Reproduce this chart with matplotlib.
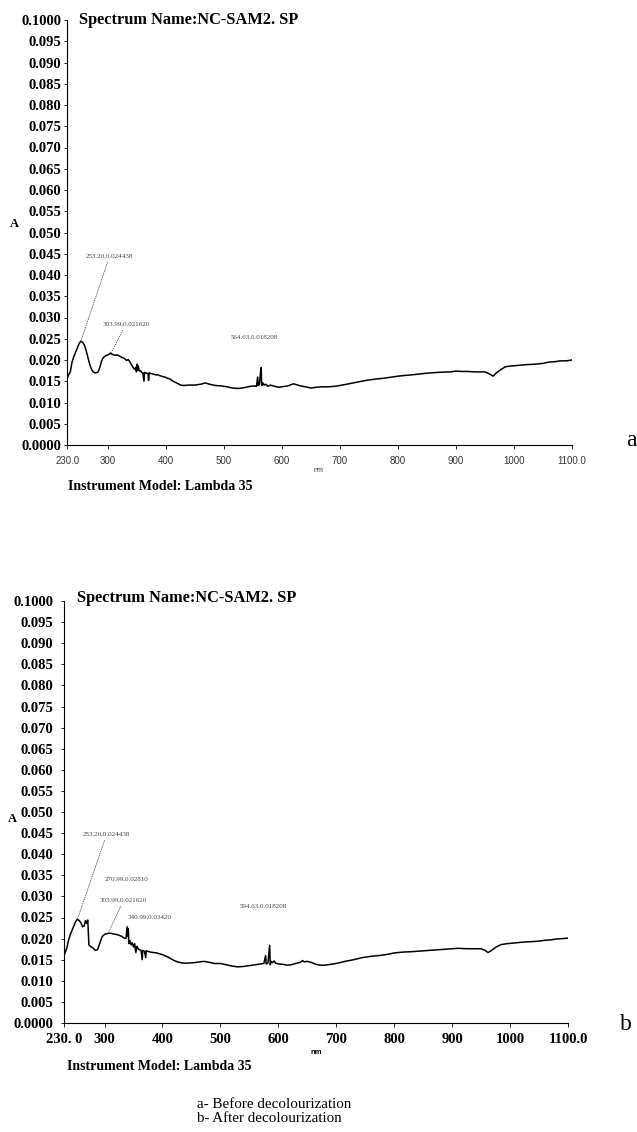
import matplotlib
matplotlib.use('Agg')
import matplotlib.pyplot as plt
import numpy as np

# UV-Vis absorbance spectra (wavelength in nm, absorbance A)
wl_before = [230, 232, 235, 238, 241, 244, 247, 250, 253, 256, 259, 262, 265, 268, 271, 274, 277, 280,
             283, 286, 289, 292, 296, 300, 304, 308, 312, 316, 320, 324, 328, 332, 335, 338, 340, 342,
             344, 346, 348, 349, 350, 351, 352, 354, 356, 358, 360, 362, 363, 366, 369, 370, 371, 374,
             378, 382, 386, 390, 394, 398, 402, 406, 410, 415, 420, 425, 430, 440, 450, 460, 468, 475,
             485, 495, 505, 515, 525, 535, 545, 552, 556, 558, 559, 561, 563, 564, 565, 567, 569, 572,
             576, 580, 585, 590, 595, 600, 610, 620, 625, 632, 640, 650, 660, 670, 680, 690, 700, 715,
             730, 745, 760, 775, 790, 800, 815, 830, 850, 870, 890, 900, 910, 920, 935, 950, 958, 964,
             970, 978, 985, 995, 1005, 1020, 1035, 1050, 1060, 1070, 1080, 1090, 1100]
abs_before = [0.0158, 0.0165, 0.0172, 0.0195, 0.0208, 0.0218, 0.0228, 0.0238, 0.0244, 0.0242, 0.0236,
              0.0224, 0.0208, 0.0192, 0.0180, 0.0173, 0.0170, 0.0170, 0.0172, 0.0183, 0.0198, 0.0206,
              0.0210, 0.0212, 0.0216, 0.0213, 0.0211, 0.0212, 0.0209, 0.0206, 0.0204, 0.0199, 0.0201,
              0.0195, 0.0190, 0.0186, 0.0181, 0.0178, 0.0183, 0.0172, 0.0190, 0.0176, 0.0186, 0.0174,
              0.0175, 0.0171, 0.0170, 0.0150, 0.0171, 0.0169, 0.0168, 0.0152, 0.0170, 0.0168, 0.0167,
              0.0165, 0.0165, 0.0163, 0.0161, 0.0160, 0.0157, 0.0156, 0.0152, 0.0148, 0.0145, 0.0141,
              0.0140, 0.0141, 0.0141, 0.0143, 0.0146, 0.0143, 0.0140, 0.0139, 0.0137, 0.0134, 0.0133,
              0.0135, 0.0138, 0.0139, 0.0138, 0.0160, 0.0140, 0.0142, 0.0172, 0.0182, 0.0140, 0.0146,
              0.0141, 0.0143, 0.0138, 0.0141, 0.0139, 0.0137, 0.0136, 0.0137, 0.0139, 0.0144, 0.0142,
              0.0139, 0.0137, 0.0134, 0.0136, 0.0137, 0.0137, 0.0138, 0.0140, 0.0144, 0.0148, 0.0152,
              0.0155, 0.0157, 0.0160, 0.0162, 0.0164, 0.0166, 0.0169, 0.0171, 0.0172, 0.0174, 0.0173,
              0.0173, 0.0172, 0.0172, 0.0167, 0.0162, 0.0170, 0.0178, 0.0184, 0.0186, 0.0187, 0.0189,
              0.0190, 0.0192, 0.0195, 0.0196, 0.0198, 0.0198, 0.0200]

wl_after = [230, 232, 235, 238, 241, 244, 247, 250, 253, 256, 259, 262, 265, 267, 269, 271, 273, 276,
            280, 284, 288, 292, 296, 300, 305, 310, 315, 320, 325, 330, 334, 337, 339, 340, 341, 342,
            344, 346, 348, 350, 352, 354, 356, 358, 360, 363, 365, 366, 369, 371, 372, 375, 379, 384,
            390, 395, 400, 405, 410, 416, 422, 428, 435, 445, 455, 465, 472, 480, 490, 500, 510, 520,
            530, 540, 550, 560, 570, 575, 578, 579, 582, 584, 585, 586, 588, 590, 593, 595, 600, 608,
            615, 622, 630, 638, 642, 644, 650, 658, 665, 672, 680, 690, 700, 715, 730, 745, 760, 775,
            790, 800, 815, 830, 850, 870, 890, 900, 910, 925, 940, 950, 957, 962, 968, 976, 985, 995,
            1010, 1025, 1040, 1050, 1060, 1070, 1080, 1090, 1100]
abs_after = [0.0160, 0.0167, 0.0178, 0.0197, 0.0210, 0.0220, 0.0230, 0.0240, 0.0246, 0.0243, 0.0238,
             0.0228, 0.0230, 0.0243, 0.0236, 0.0244, 0.0185, 0.0181, 0.0178, 0.0172, 0.0174, 0.0190,
             0.0205, 0.0210, 0.0212, 0.0213, 0.0211, 0.0210, 0.0208, 0.0205, 0.0201, 0.0200, 0.0228,
             0.0205, 0.0224, 0.0188, 0.0195, 0.0185, 0.0190, 0.0180, 0.0188, 0.0167, 0.0182, 0.0176,
             0.0174, 0.0172, 0.0150, 0.0172, 0.0170, 0.0155, 0.0171, 0.0170, 0.0168, 0.0167, 0.0166,
             0.0164, 0.0162, 0.0159, 0.0156, 0.0151, 0.0147, 0.0144, 0.0142, 0.0142, 0.0143, 0.0145,
             0.0146, 0.0144, 0.0141, 0.0141, 0.0138, 0.0135, 0.0133, 0.0134, 0.0136, 0.0138, 0.0140,
             0.0141, 0.0160, 0.0140, 0.0142, 0.0170, 0.0184, 0.0138, 0.0146, 0.0143, 0.0147, 0.0142,
             0.0140, 0.0139, 0.0137, 0.0138, 0.0141, 0.0144, 0.0148, 0.0145, 0.0146, 0.0143, 0.0139,
             0.0137, 0.0137, 0.0139, 0.0141, 0.0146, 0.0150, 0.0155, 0.0158, 0.0160, 0.0163, 0.0166,
             0.0168, 0.0169, 0.0171, 0.0173, 0.0175, 0.0176, 0.0177, 0.0176, 0.0176, 0.0176, 0.0172,
             0.0167, 0.0172, 0.0180, 0.0186, 0.0188, 0.0190, 0.0192, 0.0193, 0.0194, 0.0196, 0.0197,
             0.0199, 0.0200, 0.0201]

# peak labels: (label text, label x, label y, peak x, peak y or None for no leader)
peaks_before = [("253.20,0.024438", 262, 0.0445, 253.2, 0.0244),
                ("303.99,0.021620", 290, 0.0285, 304.0, 0.0213),
                ("564.63,0.018208", 512, 0.0254, None, None)]
peaks_after = [("253.20,0.024438", 263, 0.0448, 253.2, 0.0246),
               ("270.99,0.02810", 301, 0.0341, None, None),
               ("303.99,0.021620", 292, 0.0291, 306.0, 0.0212),
               ("340.99,0.03420", 340, 0.0251, None, None),
               ("594.63,0.018208", 533, 0.0277, None, None)]

y_ticks = np.arange(0, 0.1001, 0.005)
y_labels = ["0.0000"] + ["%.3f" % v for v in y_ticks[1:-1]] + ["0.1000"]
x_ticks = [230, 300, 400, 500, 600, 700, 800, 900, 1000, 1100]
x_labels_a = ["230.0", "300", "400", "500", "600", "700", "800", "900", "1000", "1100.0"]
x_labels_b = ["230. 0", "300", "400", "500", "600", "700", "800", "900", "1000", "1100.0"]

W, H = 637, 1132
SERIF = 'Liberation Serif'
SANS = 'Liberation Sans'


def fx(px):
    return px / W


def fy(py):
    return 1 - py / H


def draw_panel(ax, wl, ab, peaks, xlabels, bottom_style, ypad):
    ax.plot(wl, ab, color='black', lw=1.1)
    ax.set_xlim(230, 1100)
    ax.set_ylim(0, 0.1)
    for s in ['top', 'right']:
        ax.spines[s].set_visible(False)
    for s in ['left', 'bottom']:
        ax.spines[s].set_linewidth(0.8)
    ax.set_yticks(y_ticks)
    ax.set_yticklabels(y_labels, fontfamily=SERIF, fontweight='bold', fontsize=10.5)
    ax.tick_params(axis='y', length=2.5, width=0.6, pad=ypad)
    ax.set_xticks(x_ticks)
    if bottom_style:
        ax.set_xticklabels(xlabels, fontfamily=SERIF, fontweight='bold', fontsize=10.5)
        ax.tick_params(axis='x', length=3, width=0.6, pad=4)
    else:
        ax.set_xticklabels(xlabels, fontfamily=SANS, fontsize=7, color='#333333')
        ax.tick_params(axis='x', length=3, width=0.6, pad=5)
    for txt, tx, ty, px, py in peaks:
        if px is None:
            ax.text(tx, ty, txt, fontfamily=SERIF, fontsize=5, color='#444444',
                    ha='left', va='center')
        else:
            ax.annotate(txt, xy=(px, py), xytext=(tx, ty), fontfamily=SERIF, fontsize=5,
                        color='#444444', ha='left', va='center',
                        arrowprops=dict(arrowstyle='-', linestyle=':', lw=0.6, color='#555555',
                                        shrinkA=1, shrinkB=0))


fig = plt.figure(figsize=(W / 100, H / 100), dpi=100)

ax1 = fig.add_axes([fx(67.4), fy(445), fx(572 - 67.4), (445 - 20) / H])
draw_panel(ax1, wl_before, abs_before, peaks_before, x_labels_a, False, 2)

ax2 = fig.add_axes([fx(64), fy(1023), fx(568 - 64), (1023 - 601) / H])
draw_panel(ax2, wl_after, abs_after, peaks_after, x_labels_b, True, 5)

title_kw = dict(fontfamily=SERIF, fontweight='bold', fontsize=11.8, ha='left', va='center')
fig.text(fx(79), fy(20), "Spectrum Name:NC-SAM2. SP", **title_kw)
fig.text(fx(77), fy(598), "Spectrum Name:NC-SAM2. SP", **title_kw)

inst_kw = dict(fontfamily=SERIF, fontweight='bold', fontsize=10, ha='left', va='center')
fig.text(fx(68), fy(487), "Instrument Model: Lambda 35", **inst_kw)
fig.text(fx(67), fy(1066), "Instrument Model: Lambda 35", **inst_kw)

fig.text(fx(14), fy(224), "A", fontfamily=SERIF, fontweight='bold', fontsize=9, ha='center', va='center')
fig.text(fx(12), fy(819), "A", fontfamily=SERIF, fontweight='bold', fontsize=9, ha='center', va='center')

fig.text(fx(318), fy(470), "nm", fontfamily=SANS, fontsize=5, color='#333333', ha='center', va='center')
fig.text(fx(316), fy(1052), "nm", fontfamily=SANS, fontweight='bold', fontsize=5.5, ha='center', va='center')

fig.text(fx(631), fy(440), "a", fontfamily=SERIF, fontsize=17, ha='center', va='center')
fig.text(fx(626), fy(1024), "b", fontfamily=SERIF, fontsize=17, ha='center', va='center')

note_kw = dict(fontfamily=SERIF, fontsize=10.8, ha='left', va='center')
fig.text(fx(197), fy(1104), "a- Before decolourization", **note_kw)
fig.text(fx(197), fy(1118), "b- After decolourization", **note_kw)

fig.savefig('out.png', dpi=100)
